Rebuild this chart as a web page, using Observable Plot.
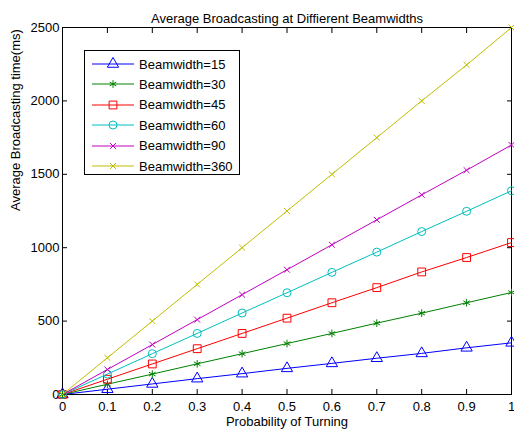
<!DOCTYPE html>
<html>
<head>
<meta charset="utf-8">
<script src="https://cdn.jsdelivr.net/npm/d3@7"></script>
<script src="https://cdn.jsdelivr.net/npm/@observablehq/plot@0.6"></script>
<style>
  html, body { margin: 0; padding: 0; background: #fff; }
  #wrap { position: relative; width: 514px; height: 437px; font-family: "Liberation Sans", Arial, sans-serif; }
  #legend { position: absolute; left: 84px; top: 50px; width: 156px; height: 125px; border: 1px solid #000; background: #fff; box-sizing: border-box; }
  .row { position: absolute; left: 0; height: 20px; display: flex; align-items: center; font-size: 13px; }
  .row svg { display: block; margin-left: 7px; margin-right: 5px; }
</style>
</head>
<body>
<div id="wrap"></div>
<script>
const title = "Average Broadcasting at Diffierent Beamwidths";
const xLabel = "Probability of Turning";
const yLabel = "Average Broadcasting time(ms)";
const prob = [0, 0.1, 0.2, 0.3, 0.4, 0.5, 0.6, 0.7, 0.8, 0.9, 1];
const seriesNames = ["Beamwidth=15", "Beamwidth=30", "Beamwidth=45", "Beamwidth=60", "Beamwidth=90", "Beamwidth=360"];
const bw15  = [0, 36, 72, 108, 142, 178, 212, 247, 280, 318, 352];
const bw30  = [0, 70, 139, 209, 278, 347, 416, 486, 554, 625, 695];
const bw45  = [0, 104, 208, 312, 416, 520, 625, 728, 835, 933, 1035];
const bw60  = [0, 139, 278, 416, 555, 693, 832, 970, 1110, 1248, 1388];
const bw90  = [0, 170, 340, 510, 680, 850, 1020, 1190, 1360, 1528, 1700];
const bw360 = [0, 250, 500, 750, 1000, 1250, 1500, 1750, 2000, 2245, 2500];
const xTicks = [0, 0.1, 0.2, 0.3, 0.4, 0.5, 0.6, 0.7, 0.8, 0.9, 1];
const yTicks = [0, 500, 1000, 1500, 2000, 2500];

const colors  = ["#0000ff", "#008000", "#ff0000", "#00bfbf", "#bf00bf", "#bfbf00"];
const symbols = ["triangle", "asterisk", "square", "circle", "times", "times"];
const radii   = [4.2, 3.6, 4.4, 4.0, 2.8, 2.8];
const values  = [bw15, bw30, bw45, bw60, bw90, bw360];

const data = [];
values.forEach((arr, i) => arr.forEach((v, j) => data.push({s: seriesNames[i], i, x: prob[j], y: v})));

const font = "Liberation Sans, Arial, sans-serif";
const marks = [];
marks.push(Plot.frame({stroke: "#000", strokeWidth: 1}));
// inward ticks on all four sides
marks.push(Plot.axisX(xTicks, {anchor: "bottom", tickSize: -5, tickFormat: () => "", label: null}));
marks.push(Plot.axisX(xTicks, {anchor: "top", tickSize: -5, tickFormat: () => "", label: null}));
marks.push(Plot.axisY(yTicks, {anchor: "left", tickSize: -5, tickFormat: () => "", label: null}));
marks.push(Plot.axisY(yTicks, {anchor: "right", tickSize: -5, tickFormat: () => "", label: null}));
// tick labels
marks.push(Plot.axisX(xTicks, {anchor: "bottom", tickSize: 0, tickPadding: 7, tickFormat: d => String(d), label: null, fontSize: 13, fill: "#000"}));
marks.push(Plot.axisY(yTicks, {anchor: "left", tickSize: 0, tickPadding: 3, tickFormat: d => String(d), label: null, fontSize: 13, fill: "#000"}));

values.forEach((arr, i) => {
  const d = data.filter(r => r.i === i);
  marks.push(Plot.line(d, {x: "x", y: "y", stroke: colors[i], strokeWidth: 1}));
  marks.push(Plot.dot(d, {x: "x", y: "y", stroke: colors[i], symbol: () => symbols[i], r: radii[i], fill: "none", strokeWidth: 1}));
});

marks.push(Plot.text([title], {frameAnchor: "top", dy: -14, fontSize: 13, fill: "#000"}));
marks.push(Plot.text([xLabel], {frameAnchor: "bottom", dy: 31, fontSize: 13, fill: "#000"}));
marks.push(Plot.text([yLabel], {frameAnchor: "left", dx: -47, rotate: -90, fontSize: 13, fill: "#000"}));

const chart = Plot.plot({
  width: 514,
  height: 437,
  marginLeft: 62,
  marginRight: 3,
  marginTop: 27,
  marginBottom: 43,
  x: {domain: [0, 1]},
  y: {domain: [0, 2500]},
  symbol: {type: "identity"},
  style: {fontFamily: font, fontSize: "13px", color: "#000", background: "#fff", overflow: "visible"},
  marks
});
document.getElementById("wrap").appendChild(chart);

// legend
const legend = document.createElement("div");
legend.id = "legend";
const symMap = {triangle: d3.symbolTriangle, asterisk: d3.symbolAsterisk, square: d3.symbolSquare, circle: d3.symbolCircle, times: d3.symbolTimes};
seriesNames.forEach((name, i) => {
  const row = document.createElement("div");
  row.className = "row";
  row.style.top = (3 + i * 20.4) + "px";
  const svg = d3.create("svg").attr("width", 42).attr("height", 20);
  svg.append("line").attr("x1", 0).attr("x2", 42).attr("y1", 10).attr("y2", 10).attr("stroke", colors[i]).attr("stroke-width", 1);
  svg.append("path").attr("transform", "translate(21,10)")
    .attr("d", d3.symbol(symMap[symbols[i]], Math.PI * radii[i] * radii[i])())
    .attr("fill", "none").attr("stroke", colors[i]).attr("stroke-width", 1);
  row.appendChild(svg.node());
  const t = document.createElement("span");
  t.textContent = name;
  row.appendChild(t);
  legend.appendChild(row);
});
document.getElementById("wrap").appendChild(legend);
</script>
</body>
</html>
